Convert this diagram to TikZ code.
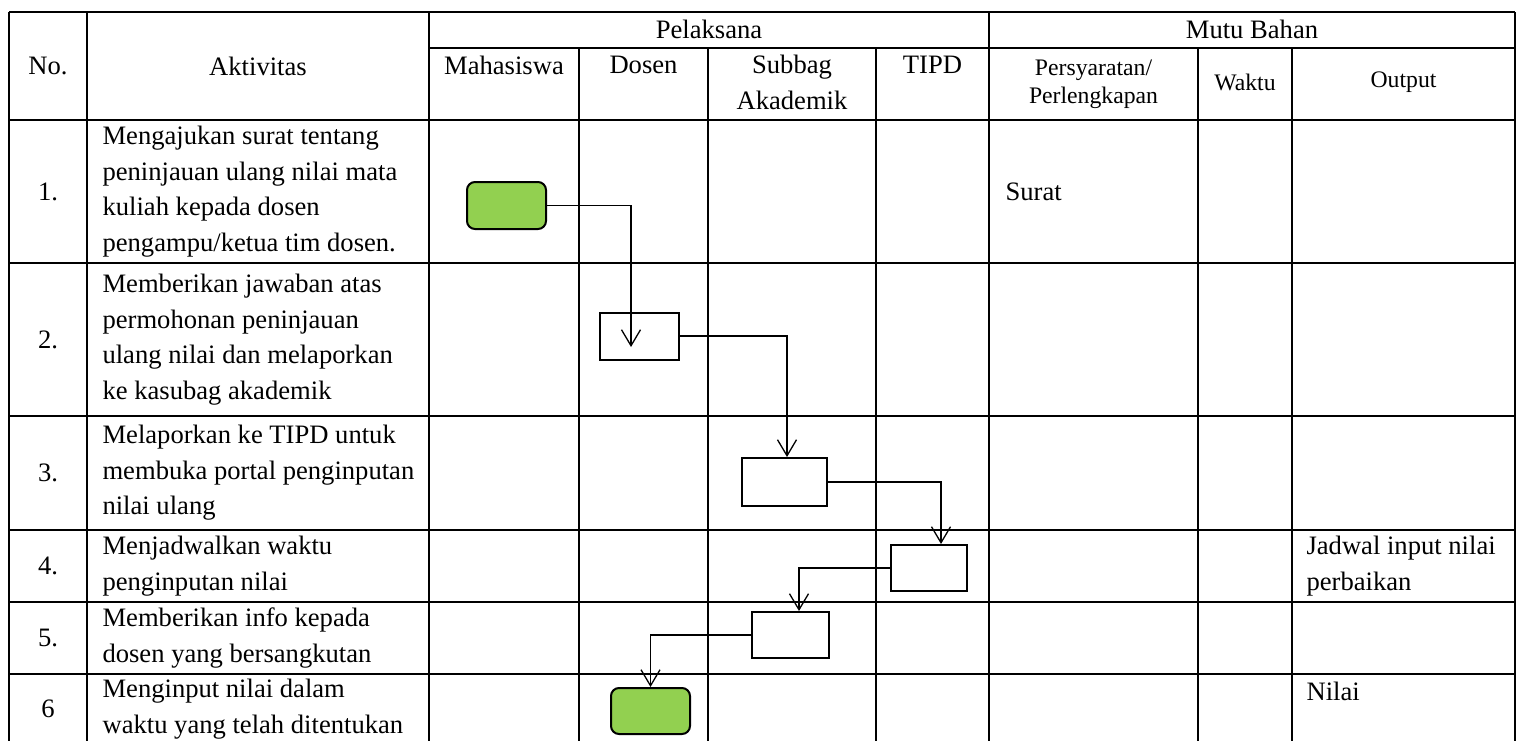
\documentclass[tikz,border=0pt]{standalone}
\usepackage{fontspec}
\setmainfont{Liberation Serif}
\usetikzlibrary{arrows.meta,calc}
\definecolor{hijau}{HTML}{92D050}

\begin{document}
\begin{tikzpicture}[x=0.5pt,y=-0.5pt,line width=0.55pt,font=\fontsize{13.3}{17.75}\selectfont]
  \tikzstyle{kotak}=[draw,line width=1pt,minimum width=39.5pt,minimum height=23.5pt,inner sep=0pt]
  \tikzstyle{ujung}=[kotak,fill=hijau,rounded corners=4pt]
  \tikzstyle{alur}=[line width=0.65pt,-{Straight Barb[length=8pt,width=9.5pt]}]
  \tikzstyle{kecil}=[font=\fontsize{11.85}{14}\selectfont]
  \tikzstyle{isi}=[anchor=west,align=left,inner sep=0pt]

  \useasboundingbox (0,0) rectangle (1520,740);
  \clip (0,0) rectangle (1520,740);

  % garis tabel
  \foreach \y in {12,120,263,416,530,602,674,746}
    \draw (9,\y) -- (1515,\y);
  \draw (429,48) -- (1515,48);
  \foreach \x in {9,87,429,989,1515}
    \draw (\x,12) -- (\x,746);
  \foreach \x in {579,708,876,1198,1292}
    \draw (\x,48) -- (\x,746);

  % judul kolom
  \node (h-no) at (48,66) {No.};
  \node (h-akt) at (258,66) {Aktivitas};
  \node (h-pel) at (709,29) {Pelaksana};
  \node (h-mutu) at (1252,29) {Mutu Bahan};
  \foreach \name/\x/\text in {mhs/504/Mahasiswa, dsn/643.5/Dosen, tipd/932.5/TIPD}
    \node (h-\name) at (\x,65) {\text};
  \node[align=center] (h-sbg) at (792,82.5) {Subbag\\Akademik};
  \node[kecil,align=center] (h-syarat) at (1093.5,84) {Persyaratan/\\Perlengkapan};
  \node[kecil] (h-waktu) at (1245,82) {Waktu};
  \node[kecil] (h-out) at (1403.5,82) {Output};

  % nomor dan aktivitas
  \foreach \name/\y/\nomor/\text in {
      1/191.5/1./{Mengajukan surat tentang\\peninjauan ulang nilai mata\\kuliah kepada dosen\\pengampu/ketua tim dosen.},
      2/339.5/2./{Memberikan jawaban atas\\permohonan peninjauan\\ulang nilai dan melaporkan\\ke kasubag akademik},
      3/473/3./{Melaporkan ke TIPD untuk\\membuka portal penginputan\\nilai ulang},
      4/566/4./{Menjadwalkan waktu\\penginputan nilai},
      5/638/5./{Memberikan info kepada\\dosen yang bersangkutan},
      6/709/6/{Menginput nilai dalam\\waktu yang telah ditentukan}}
  {
    \node (no-\name) at (48,\y) {\nomor};
    \node[isi] (akt-\name) at (102,\y) {\text};
  }

  % mutu bahan
  \node[isi] (syarat-1) at (1005,191.5) {Surat};
  \node[isi] (out-4) at (1306,566) {Jadwal input nilai\\perbaikan};
  \node[isi] (out-6) at (1306,691) {Nilai};

  % kotak alur
  \node[ujung] (mhs-1) at (506.5,205.5) {};
  \node[kotak] (dsn-2) at (639.5,336) {};
  \node[kotak,minimum width=42.5pt,minimum height=24pt] (sbg-3) at (784.5,482) {};
  \node[kotak,minimum width=38pt,minimum height=23pt] (tipd-4) at (929,568) {};
  \node[kotak,minimum width=38.5pt,minimum height=23pt] (sbg-5) at (790.5,635) {};
  \node[ujung,minimum height=23pt] (dsn-6) at (650.5,711) {};

  % panah
  \coordinate (masuk-2) at (631,347);
  \draw[alur] (mhs-1.east) -| (masuk-2);
  \draw[alur] (dsn-2.east) -| ($(sbg-3.north)+(2.5,0)$);
  \draw[alur] (sbg-3.east) -| ($(tipd-4.north)+(12,0)$);
  \draw[alur] (tipd-4.west) -| ($(sbg-5.north)+(8.5,0)$);
  \draw[alur] (sbg-5.west) -| (dsn-6.north);

\end{tikzpicture}
\end{document}
